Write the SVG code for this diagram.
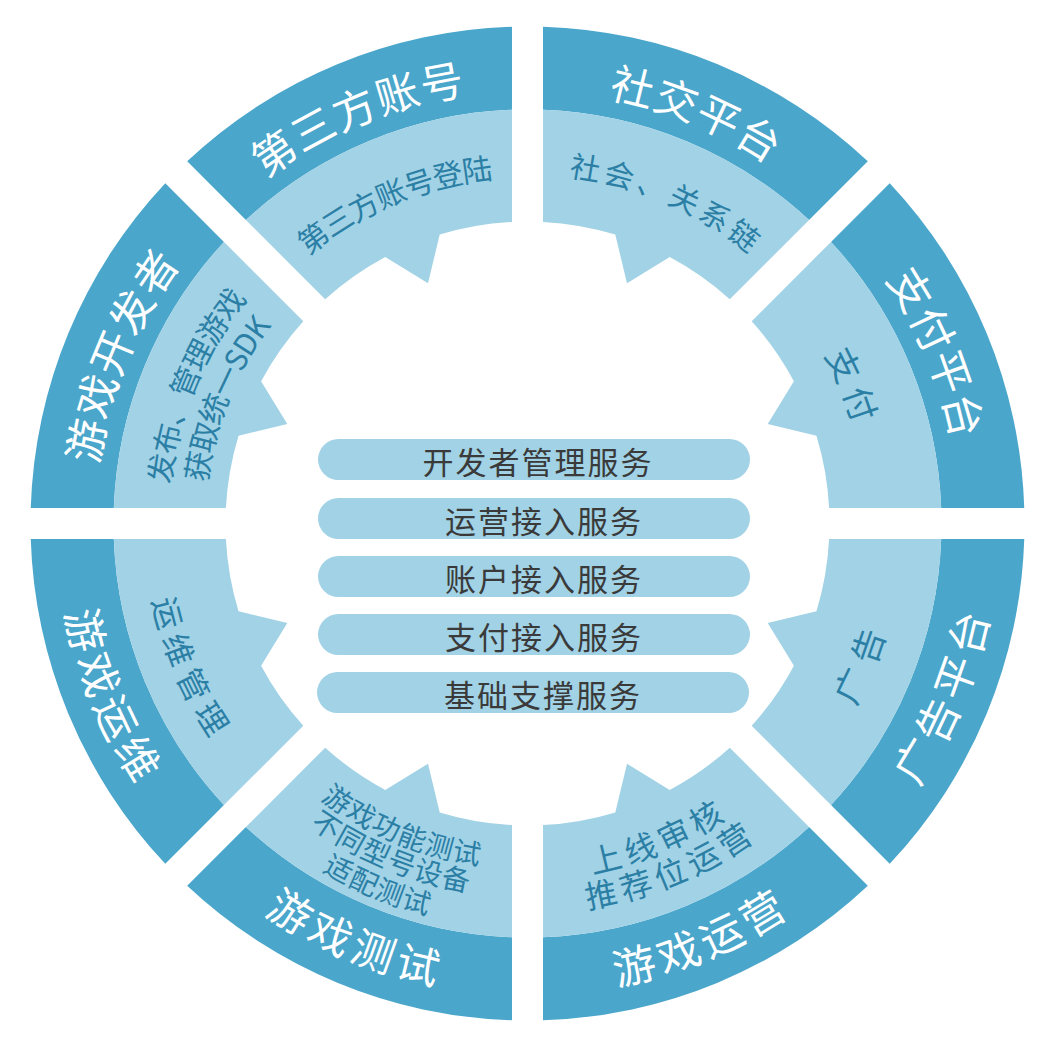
<svg xmlns="http://www.w3.org/2000/svg" xmlns:xlink="http://www.w3.org/1999/xlink" width="1061" height="1045" viewBox="0 0 1061 1045">
<style>
.dark{fill:#4aa6cb}
.light{fill:#a1d2e5}
.pill{fill:#a1d2e5}
text{font-family:"Noto Sans CJK SC","Noto Sans",sans-serif;dominant-baseline:central}
.main{fill:#ffffff;font-size:43px;letter-spacing:3px}
.sub{fill:#2b7fa5;font-size:30px;letter-spacing:0px}
.ptext{fill:#3a3a3a;font-size:31px;letter-spacing:2px;text-anchor:middle}
</style>
<defs>
<path id="sd" d="M-175.79,-464.87 A497,497 0 0 1 175.79,-464.87 L143.99,-388.15 A414,414 0 0 0 -143.99,-388.15 Z"/>
<path id="sl" d="M-143.99,-388.15 A414,414 0 0 1 143.99,-388.15 L101.10,-284.57 A302,302 0 0 0 29.47,-300.56 L0,-260 L-29.47,-300.56 A302,302 0 0 0 -101.10,-284.57 Z"/>
<path id="u452" d="M-290.54,-346.25 A452,452 0 0 1 290.54,-346.25"/>
<path id="d452" d="M-290.54,346.25 A452,452 0 0 0 290.54,346.25"/>
<path id="u359" d="M-230.76,-275.01 A359,359 0 0 1 230.76,-275.01"/>
<path id="u362" d="M-232.69,-277.30 A362,362 0 0 1 232.69,-277.30"/>
<path id="u356" d="M-228.83,-272.71 A356,356 0 0 1 228.83,-272.71"/>
<path id="u372" d="M-239.12,-284.97 A372,372 0 0 1 239.12,-284.97"/>
<path id="u336" d="M-215.98,-257.39 A336,336 0 0 1 215.98,-257.39"/>
<path id="d360" d="M-231.40,275.78 A360,360 0 0 0 231.40,275.78"/>
<path id="d369" d="M-237.19,282.67 A369,369 0 0 0 237.19,282.67"/>
<path id="d333" d="M-214.05,255.09 A333,333 0 0 0 214.05,255.09"/>
<path id="d361" d="M-232.05,276.54 A361,361 0 0 0 232.05,276.54"/>
<path id="d392" d="M-251.97,300.29 A392,392 0 0 0 251.97,300.29"/>
<path id="d342" d="M-219.83,261.99 A342,342 0 0 0 219.83,261.99"/>
<path id="d376" d="M-241.69,288.03 A376,376 0 0 0 241.69,288.03"/>
</defs>
<rect width="1061" height="1045" fill="#ffffff"/>

<g id="sector-third-party">
<g transform="translate(527.5 523.5) rotate(-22.5)"><use href="#sd" class="dark"/><use href="#sl" class="light"/></g>
<g transform="translate(527.5 523.5) rotate(-22.5)">
<text class="main"><textPath href="#u452" startOffset="50%" text-anchor="middle">第三方账号</textPath></text>
<text class="sub"><textPath href="#u359" startOffset="50%" text-anchor="middle">第三方账号登陆</textPath></text>
</g>
</g>

<g id="sector-social">
<g transform="translate(527.5 523.5) rotate(22.5)"><use href="#sd" class="dark"/><use href="#sl" class="light"/></g>
<g transform="translate(527.5 523.5) rotate(22.5)">
<text class="main"><textPath href="#u452" startOffset="50%" text-anchor="middle">社交平台</textPath></text>
</g>
<g transform="translate(527.5 523.5) rotate(23.5)">
<text class="sub" style="letter-spacing:5px"><textPath href="#u362" startOffset="50%" text-anchor="middle">社会、关系链</textPath></text>
</g>
</g>

<g id="sector-payment">
<g transform="translate(527.5 523.5) rotate(67.5)"><use href="#sd" class="dark"/><use href="#sl" class="light"/></g>
<g transform="translate(527.5 523.5) rotate(67.5)">
<text class="main"><textPath href="#u452" startOffset="50%" text-anchor="middle">支付平台</textPath></text>
<text class="sub" style="font-size:34px;letter-spacing:9px"><textPath href="#u356" startOffset="50%" text-anchor="middle">支付</textPath></text>
</g>
</g>

<g id="sector-ads">
<g transform="translate(527.5 523.5) rotate(112.5)"><use href="#sd" class="dark"/><use href="#sl" class="light"/></g>
<g transform="translate(527.5 523.5) rotate(-67.5)">
<text class="main"><textPath href="#d452" startOffset="50%" text-anchor="middle">广告平台</textPath></text>
<text class="sub" style="font-size:34px;letter-spacing:9px"><textPath href="#d360" startOffset="50%" text-anchor="middle">广告</textPath></text>
</g>
</g>

<g id="sector-operation">
<g transform="translate(527.5 523.5) rotate(157.5)"><use href="#sd" class="dark"/><use href="#sl" class="light"/></g>
<g transform="translate(527.5 523.5) rotate(-22.5)">
<text class="main"><textPath href="#d452" startOffset="50%" text-anchor="middle">游戏运营</textPath></text>
<text class="sub" style="font-size:32px;letter-spacing:4px"><textPath href="#d342" startOffset="50%" text-anchor="middle">上线审核</textPath></text>
<text class="sub" style="font-size:32px;letter-spacing:4px"><textPath href="#d376" startOffset="50%" text-anchor="middle">推荐位运营</textPath></text>
</g>
</g>

<g id="sector-testing">
<g transform="translate(527.5 523.5) rotate(202.5)"><use href="#sd" class="dark"/><use href="#sl" class="light"/></g>
<g transform="translate(527.5 523.5) rotate(22.5)">
<text class="main"><textPath href="#d452" startOffset="50%" text-anchor="middle">游戏测试</textPath></text>
<text class="sub" style="font-size:28px"><textPath href="#d333" startOffset="50%" text-anchor="middle">游戏功能测试</textPath></text>
<text class="sub" style="font-size:28px"><textPath href="#d361" startOffset="50%" text-anchor="middle">不同型号设备</textPath></text>
<text class="sub" style="font-size:28px"><textPath href="#d392" startOffset="50%" text-anchor="middle">适配测试</textPath></text>
</g>
</g>

<g id="sector-maintenance">
<g transform="translate(527.5 523.5) rotate(247.5)"><use href="#sd" class="dark"/><use href="#sl" class="light"/></g>
<g transform="translate(527.5 523.5) rotate(67.5)">
<text class="main"><textPath href="#d452" startOffset="50%" text-anchor="middle">游戏运维</textPath></text>
</g>
<g transform="translate(527.5 523.5) rotate(66.7)">
<text class="sub" style="font-size:32px;letter-spacing:6px"><textPath href="#d369" startOffset="50%" text-anchor="middle">运维管理</textPath></text>
</g>
</g>

<g id="sector-developer">
<g transform="translate(527.5 523.5) rotate(-67.5)"><use href="#sd" class="dark"/><use href="#sl" class="light"/></g>
<g transform="translate(527.5 523.5) rotate(-67.5)">
<text class="main"><textPath href="#u452" startOffset="50%" text-anchor="middle">游戏开发者</textPath></text>
<text class="sub"><textPath href="#u372" startOffset="50%" text-anchor="middle">发布、管理游戏</textPath></text>
<text class="sub"><textPath href="#u336" startOffset="50%" text-anchor="middle">获取统一SDK</textPath></text>
</g>
</g>

<g id="pill-dev-mgmt"><rect class="pill" x="318" y="439" width="432" height="41" rx="20.5"/><text class="ptext" x="538" y="460">开发者管理服务</text></g>
<g id="pill-ops-access"><rect class="pill" x="318" y="498" width="432" height="41" rx="20.5"/><text class="ptext" x="544" y="519">运营接入服务</text></g>
<g id="pill-account-access"><rect class="pill" x="318" y="556" width="432" height="41" rx="20.5"/><text class="ptext" x="544" y="577">账户接入服务</text></g>
<g id="pill-pay-access"><rect class="pill" x="318" y="614" width="432" height="41" rx="20.5"/><text class="ptext" x="544" y="635">支付接入服务</text></g>
<g id="pill-base-support"><rect class="pill" x="317" y="672" width="432" height="41" rx="20.5"/><text class="ptext" x="543" y="693">基础支撑服务</text></g>
<g id="connectors"/>
</svg>
